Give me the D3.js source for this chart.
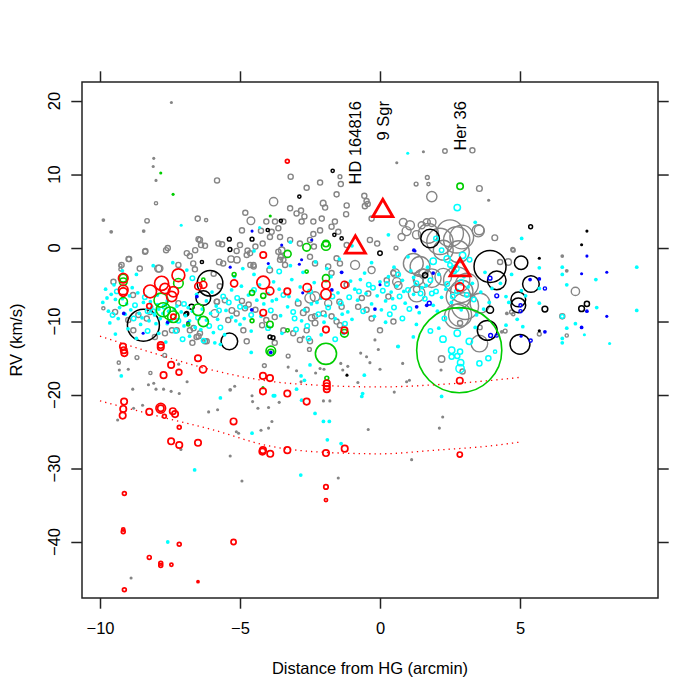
<!DOCTYPE html>
<html>
<head>
<meta charset="utf-8">
<script src="https://cdn.jsdelivr.net/npm/d3@7"></script>
<style>
body { margin: 0; background: #fff; }
text { font-family: "Liberation Sans", Arial, Helvetica, sans-serif; }
</style>
</head>
<body>
<div id="chart"></div>
<script>
var width = 700
var height = 700
var margin = {top: 82, right: 42, bottom: 102, left: 82}

// tick values
var xTicks = [-10, -5, 0, 5]
var yTicks = [20, 10, 0, -10, -20, -30, -40]

// points: [distance (arcmin), RV (km/s), symbol cex]
var greyPts = [
[-7.45,19.8,0.3],[-8.08,12.2,0.3],[-8.1,11.1,0.3],[-8.0,9.2,0.3],[-5.82,9.2,0.8],[-3.8,6.3,1.3],[-8.0,6.1,0.5],[-9.88,3.8,0.4],[-8.32,3.7,0.7],[-6.51,4.0,0.8],[-6.21,3.8,0.5],[-4.61,3.7,1.2],[-4.81,4.8,0.8],[-4.06,3.6,0.8],[-9.6,2.2,0.4],[-8.44,2.3,0.4],[-7.58,0.0,0.8],[-8.38,-0.4,0.8],[-7.88,-2.8,1.1],[-8.98,-1.5,0.8],[-8.58,-2.8,0.8],[-9.27,-2.4,0.5],[-9.27,-2.9,0.5],[-6.48,1.2,0.8],[-6.39,0.4,0.8],[-6.6,-0.3,0.8],[-5.64,0.5,0.8],[-5.32,-1.5,1.0],[-5.11,-1.6,1.0],[-4.93,2.4,0.8],[-4.25,2.35,0.8],[-4.73,-0.35,0.8],[-4.45,0.2,0.8],[-4.63,-2.3,0.8],[-4.51,-2.5,0.8],[-3.94,-3.0,0.9],[-3.54,-1.2,0.8],[-5.74,-1.9,0.9],[-5.94,-3.5,0.8],[-8.82,-6.4,0.8],[-9.88,-8.2,0.5],[-5.72,-5.2,0.8],[-5.82,-7.3,0.8],[-5.9,-8.9,1.2],[-5.29,-8.5,0.9],[-4.93,-7.2,0.8],[-4.69,-7.7,0.8],[-4.45,-8.4,0.8],[-4.06,-9.8,0.8],[-4.21,-10.5,0.8],[-3.76,-9.4,0.8],[-7.43,-11.2,0.8],[-6.66,-10.9,0.8],[-6.48,-12.0,0.8],[-6.25,-12.7,0.8],[-6.7,-12.9,0.8],[-3.76,-12.9,0.8],
[-9.52,-4.6,0.8],[-9.23,-2.3,0.8],[-8.96,-1.5,0.8],[-7.92,-2.8,1.1],[-8.39,-0.5,0.8],[-7.64,-0.3,0.8],[-6.9,-0.7,0.8],[-6.79,-1.1,0.8],[-7.2,-2.3,0.8],[-6.67,-2.1,0.8],[-6.61,-2.9,0.8],[-6.43,1.1,0.8],[-6.25,0.3,0.8],[-5.77,0.6,0.8],[-5.6,-2.1,0.8],[-5.12,-0.4,0.8],[-5.0,0.4,0.8],[-4.76,-0.95,0.8],[-5.83,-7.3,0.8],[-5.54,-7.1,0.8],[-5.42,-9.8,0.8],[-5.12,-8.9,0.8],[-4.82,-8.2,0.8],[-6.19,-12.7,0.8],[-6.43,-11.6,0.8],[-7.2,-7.5,0.8],[-8.21,-8.7,0.8],[-8.33,-9.6,0.8],[-8.63,-9.1,0.8],[-9.46,-8.7,0.8],[-8.99,-9.8,0.8],[-8.81,-11.2,0.8],[-8.04,-12.1,0.8],[-7.68,-11.6,0.8],[-7.26,-11.2,0.8],[-6.79,-11.2,0.8],[-6.55,-12.1,0.8],[-4.88,-11.2,0.8],[-4.76,-12.7,0.8],
[-4.19,0.6,0.8],[-4.64,-0.7,0.8],[-4.52,-2.3,0.8],[-3.63,-0.5,0.8],[-3.45,-1.6,0.8],[-2.86,0.6,0.8],[-2.5,-1.2,0.8],[-2.32,-2.1,0.8],[-1.55,-1.4,0.8],[-1.43,-2.1,0.8],[-1.85,-2.5,0.8],[-1.73,-3.4,0.8],[-2.32,-6.6,1.5],[-2.62,-8.4,0.8],[-2.32,-9.3,0.8],[-2.02,-8.9,0.8],[-1.73,-9.3,0.8],[-1.55,-10.0,0.8],[-1.43,-10.5,0.8],[-3.45,-11.2,0.8],[-3.1,-11.6,0.8],[-2.62,-11.2,0.8],[-2.86,-12.5,0.8],[-2.5,-12.7,0.8],[-0.78,-8.0,0.8],[-0.65,-6.8,0.8],[-0.42,-6.2,0.8],[-0.48,-8.4,0.8],[-0.3,-9.6,0.8],[0.24,-4.4,0.8],[0.48,-3.4,0.8],[0.3,-6.6,0.8],[0.0,-11.2,0.8],[0.48,-10.0,0.8],[-3.93,1.5,0.8],[-3.57,1.5,0.8],[-1.85,-7.5,1.1],[-0.3,-3.0,1.1],
[-3.19,9.7,0.8],[-2.62,8.2,0.8],[-2.14,8.9,0.8],[-1.43,9.7,0.6],[-1.4,8.7,0.8],[-3.21,5.4,0.8],[-2.98,4.7,0.8],[-2.82,5.1,0.8],[-2.7,4.3,0.8],[-2.8,3.6,0.8],[-2.03,6.1,0.9],[-1.96,5.5,0.8],[-2.08,4.0,0.8],[-2.38,3.6,0.8],[-1.55,7.3,0.8],[-1.19,5.8,0.8],[-1.21,4.6,0.8],[-0.56,7.1,0.8],[-0.48,6.4,0.8],[-0.44,6.0,0.8],[-0.54,5.7,0.8],[-0.3,4.0,0.8],[-3.75,3.6,0.8],[-3.63,2.7,0.8],[-3.45,3.6,0.8],[-3.87,2.2,0.8],[-3.51,-0.3,1.0],[-3.21,1.1,0.8],[-1.61,3.6,0.8],[-1.73,2.9,0.8],[-1.49,2.2,0.8],[-2.14,2.4,0.8],[-2.38,1.9,0.8],[-2.5,1.1,0.8],[-2.36,0.2,0.8],[-1.19,0.4,0.8],[-0.89,-2.3,1.4],[-0.36,1.1,0.8],[-0.1,0.6,0.8],[0.57,0.0,0.6],
[0.83,3.5,1.2],[1.07,3.1,1.4],[0.95,2.3,1.4],[0.77,1.5,1.1],[1.31,1.8,1.3],[1.49,3.1,1.1],[1.67,3.5,1.1],[1.85,3.5,1.3],[1.85,7.0,1.6],[1.29,8.7,0.6],[1.69,9.6,0.6],[1.73,8.7,0.5],[2.32,13.2,0.7],[1.55,13.1,0.3],[0.6,11.6,0.3],[3.3,13.3,0.8],
[1.73,2.0,3.1],[2.14,0.9,4.1],[2.74,1.1,4.1],[2.8,-0.5,3.4],[3.51,2.35,1.9],[2.5,2.0,4.2],[2.92,1.5,3.7],[2.26,-0.3,3.1],[1.19,-2.1,3.1],[1.43,-2.5,3.1],[1.55,-4.1,2.9],[1.85,-4.1,2.9],[2.74,-4.35,4.1],[3.1,-5.0,3.6],[2.8,-6.6,3.8],[2.86,-9.1,3.6],[3.57,-7.5,3.1],[0.54,-3.4,1.3],[0.6,-4.6,1.3],[1.31,-6.2,2.6],[2.92,-5.9,3.5],[3.04,-7.9,4.2],[2.74,-9.3,3.8],[2.26,-3.9,2.6],[0.65,-5.1,1.2],[1.31,-5.6,1.0],[2.86,-10.2,0.8],[3.57,-10.8,0.7],[1.55,-3.5,1.4],[1.37,-4.3,1.6],
[-2.5,-6.8,1.6],[-2.92,-7.5,0.9],[-2.74,-8.8,0.9],[-2.44,-9.5,1.0],[-2.32,-10.2,0.9],[-1.45,-7.3,0.8],[-1.37,-8.0,0.8],[-1.19,-5.0,0.8],[-3.57,-1.6,0.8],[-3.39,-2.3,0.8],
[3.88,6.5,0.3],[3.55,8.1,0.9],[3.54,2.45,1.5],[4.1,1.4,0.9],[4.74,-0.2,0.6],[4.58,-1.9,1.0],[4.29,-1.9,0.8],[4.76,-0.3,0.6],[6.51,-1.1,0.4],[6.67,-3.1,0.4],[6.98,-5.9,1.3],[6.51,-9.3,0.8],[4.76,-9.0,0.5],[4.53,-8.9,0.4],[4.35,-11.4,0.4],[6.67,-11.9,0.5],[4.7,-8.7,0.6],[5.69,-11.7,0.6],[4.47,-11.3,0.6],
[2.2,-15.1,1.0],[2.95,-16.8,0.8],[3.55,-13.0,2.6],
[-9.33,-15.6,0.5],[-9.31,-16.6,0.3],[-8.99,-16.5,0.3],[-8.2,-17.0,0.5],[-8.27,-18.6,0.3],[-8.08,-18.4,0.3],[-7.73,-19.2,0.3],[-7.46,-19.5,0.3],[-8.83,-19.2,0.3],[-8.0,-19.2,0.3],[-7.17,-19.8,0.3],[-6.89,-18.2,0.3],[-7.19,-15.8,0.3],[-8.48,-21.4,0.3],[-8.8,-21.8,0.3],[-9.37,-23.4,0.3],[-6.12,-22.3,0.3],[-5.8,-22.0,0.3],[-5.35,-19.3,0.4],[-5.19,-18.8,0.3],[-4.57,-20.1,0.3],[-4.55,-20.9,0.3],[-4.36,-21.8,0.3],[-3.98,-21.7,0.3],[-3.86,-23.6,0.3],[-3.98,-24.5,0.3],[-4.25,-24.8,0.3],[-5.13,-25.0,0.3],[-5.05,-25.2,0.3],[-5.35,-28.3,0.3],[-7.11,-27.4,0.3],[-4.93,-31.7,0.3],[-8.89,-44.9,0.3],[-8.68,-14.9,0.6],[-7.69,-14.6,0.6],[-4.13,-16.0,0.6],
[-2.74,-12.1,0.3],[-2.52,-13.8,0.6],[-3.28,-14.7,0.6],[-3.28,-16.2,0.3],[-2.98,-16.7,0.3],[-2.82,-18.2,0.3],[-2.14,-16.4,0.3],[-2.0,-16.5,0.3],[-2.3,-17.0,0.3],[-1.4,-15.7,0.3],[-1.33,-16.6,0.3],[-1.15,-16.1,0.3],[-0.79,-18.3,0.3],[-0.36,-15.6,0.3],[-0.69,-14.3,0.3],[-0.48,-14.8,0.3],[0.0,-16.5,0.3],[-0.06,-13.8,0.3],[-0.18,-12.5,0.3],[0.63,-13.4,0.3],[0.81,-15.7,0.3],[0.95,-18.2,0.3],[1.05,-18.0,0.3],[0.51,-19.6,0.3],[2.18,-16.6,0.3],[2.24,-23.0,0.3],[2.12,-24.5,0.3],[-0.42,-24.7,0.3],[-1.49,-31.3,0.3],[1.13,-28.8,0.3],[-2.02,-20.8,0.3],[-1.79,-20.8,0.3],[-3.6,-21.0,0.3]
]

var blackPts = [
[-8.45,-10.5,5.0],[-6.07,-4.8,4.0],[-6.31,-6.8,2.3],[-5.38,-12.7,2.6],[-6.73,-8.0,0.8],[-6.9,-8.9,0.6],[-5.36,-0.2,0.6],[-5.38,1.2,0.6],[-4.57,1.2,0.6],[-4.01,2.45,0.5],[-3.54,3.7,0.5],[-6.36,-1.9,0.5],[-6.93,-9.0,0.6],[-3.82,-12.2,0.6],[-3.93,-12.1,0.6],[-1.63,1.8,0.5],[-1.37,1.3,0.5],[0.0,-0.7,0.7],[1.61,-3.7,0.8],[-1.69,10.5,0.5],[-2.88,7.0,0.5],[-1.18,-17.3,0.3],
[1.79,1.3,2.9],[3.93,-2.5,5.0],[4.17,-4.4,2.9],[5.04,-2.0,2.1],[5.39,-4.9,2.6],[4.94,-7.0,2.3],[4.94,-7.8,2.3],[3.93,-8.4,1.1],[3.83,-11.2,3.1],[5.0,-13.1,3.1],[5.89,-8.3,0.9],[5.38,2.9,0.6],[7.2,-8.25,0.9],[7.39,-7.6,0.8],[5.69,-1.4,0.3],[7.2,0.45,0.3],[7.39,2.3,0.3],[5.69,-11.25,0.3]
]

var cyanPts = [
[-9.6,-6.3,0.4],[-9.45,-7.0,0.4],[-9.3,-8.1,0.4],[-9.7,-8.6,0.4],[-9.1,-9.0,0.4],[-8.9,-8.4,0.4],[-8.75,-7.8,0.7],[-8.6,-8.9,0.4],[-8.5,-9.5,0.4],[-8.3,-8.6,0.7],[-8.15,-8.0,0.4],[-8.05,-9.1,0.4],[-7.95,-7.7,0.4],[-7.85,-9.6,0.4],[-7.7,-8.0,0.7],[-7.6,-10.3,0.4],[-7.45,-9.8,0.4],[-7.35,-8.3,0.4],[-7.2,-9.9,0.7],[-7.1,-8.7,0.4],[-7.0,-10.6,0.4],[-6.95,-9.2,0.4],[-6.8,-9.9,0.4],[-6.7,-8.6,0.4],[-6.6,-10.8,0.4],[-6.5,-9.5,0.7],[-6.4,-11.1,0.4],[-6.2,-9.8,0.4],[-6.1,-10.6,0.7],[-5.95,-11.5,0.4],[-5.8,-9.7,0.4],[-5.7,-10.8,0.7],[-5.55,-11.8,0.4],[-8.85,-5.4,0.4],[-8.65,-6.1,0.4],[-8.4,-6.7,0.7],[-8.2,-7.3,0.4],[-7.95,-6.4,0.4],[-7.6,-7.2,0.4],[-9.5,-5.0,0.4],[-9.8,-5.6,0.4],[-9.2,-3.1,0.4],[-8.7,-3.6,0.4],[-8.1,-2.4,0.4],[-7.4,-2.0,0.4],[-6.9,-3.0,0.4],[-6.7,-4.1,0.7],[-6.55,-6.3,0.4],[-6.2,-7.2,0.4],[-6.0,-6.0,0.4],[-5.85,-7.9,0.4],[-5.6,-6.6,0.7],[-5.5,-8.5,0.4],[-9.65,-10.2,0.4],[-9.0,-11.0,0.4],[-8.7,-12.3,0.4],[-7.9,-11.6,0.4],[-7.3,-11.3,0.7],[-7.05,-12.4,0.7],[-6.8,-12.0,0.4],[-6.3,-12.6,0.7],[-5.9,-12.9,0.4],[-9.35,-9.6,0.4],[-8.0,-10.3,0.4],[-7.75,-8.9,0.4],[-8.45,-7.4,0.4],[-9.05,-7.6,0.4],[-9.55,-9.1,0.7],
[-9.9,-7.4,0.4],[-9.75,-6.8,0.4],[-9.4,-5.9,0.7],[-9.2,-6.9,0.4],[-8.95,-6.5,0.4],[-8.8,-9.6,0.7],[-8.55,-10.4,0.4],[-8.25,-9.9,0.4],[-8.1,-8.6,0.7],[-7.9,-8.3,0.4],[-7.55,-8.6,0.4],[-7.25,-7.9,0.4],[-7.0,-7.6,0.7],[-6.85,-8.1,0.4],[-6.35,-8.3,0.4],[-6.05,-8.9,0.4],[-5.75,-8.5,0.7],[-9.45,-11.7,0.4],[-8.3,-11.3,0.7],[-7.65,-12.8,0.4],
[-5.3,-5.7,0.4],[-5.1,-6.8,0.7],[-4.95,-5.2,0.4],[-4.8,-8.1,0.4],[-4.7,-6.4,0.4],[-4.6,-9.1,0.7],[-4.4,-7.1,0.4],[-4.3,-5.0,0.4],[-4.15,-7.6,0.4],[-4.0,-6.2,0.4],[-3.9,-8.5,0.7],[-3.8,-4.6,0.4],[-3.7,-7.0,0.4],[-3.55,-9.2,0.4],[-3.45,-6.4,0.7],[-3.3,-8.0,0.4],[-3.15,-4.3,0.4],[-3.05,-9.6,0.7],[-2.95,-7.1,0.4],[-2.85,-5.3,0.4],[-2.7,-8.4,0.4],[-2.6,-10.6,0.7],[-2.45,-7.6,0.4],[-2.35,-4.7,0.4],[-2.2,-9.0,0.7],[-2.1,-6.8,0.4],[-2.0,-10.1,0.4],[-1.85,-8.1,0.7],[-1.75,-3.9,0.4],[-1.6,-9.6,0.4],[-1.5,-6.1,0.4],[-1.4,-7.5,0.7],[-1.25,-10.3,0.7],[-1.15,-8.7,0.4],[-1.05,-4.5,0.4],[-5.2,-3.9,0.4],[-4.9,-2.8,0.4],[-4.5,-3.6,0.4],[-3.95,-2.6,0.4],[-3.6,-3.2,0.7],[-3.2,-2.4,0.4],[-2.75,-3.3,0.4],[-2.3,-1.9,0.4],[-1.9,-2.8,0.4],[-1.45,-1.5,0.4],[-5.0,-10.4,0.4],[-4.6,-11.3,0.4],[-4.0,-10.9,0.7],[-3.5,-11.6,0.4],[-3.0,-11.1,0.7],[-2.55,-12.3,0.7],[-2.1,-11.8,0.4],[-1.6,-12.4,0.7],[-5.3,-9.4,0.4],[-5.0,-8.0,0.7],
[-5.4,-7.4,0.7],[-5.15,-9.9,0.4],[-4.85,-9.6,0.4],[-4.5,-5.7,0.7],[-4.25,-9.3,0.4],[-3.85,-7.2,0.4],[-3.6,-5.6,0.4],[-3.25,-6.6,0.4],[-3.1,-8.7,0.7],[-2.8,-9.9,0.4],[-2.5,-5.9,0.7],[-2.25,-7.4,0.4],[-1.95,-9.2,0.4],[-1.7,-6.6,0.7],[-1.35,-9.0,0.4],[-1.1,-6.7,0.7],[-1.0,-9.7,0.4],[-1.3,-11.6,0.4],
[-0.9,-5.6,0.4],[-0.8,-7.1,0.4],[-0.7,-4.3,0.4],[-0.6,-8.6,0.7],[-0.5,-6.2,0.4],[-0.4,-5.0,0.7],[-0.3,-7.6,0.4],[-0.2,-9.3,0.4],[-0.1,-6.5,0.4],[0.0,-4.6,0.4],[0.1,-5.8,0.7],[0.2,-7.2,0.4],[0.3,-3.9,0.4],[0.4,-6.0,0.4],[0.5,-8.1,0.7],[0.6,-5.2,0.4],[0.7,-6.6,0.7],[0.8,-4.4,0.4],[0.9,-7.5,0.4],[1.0,-5.7,0.7],[1.1,-3.1,0.4],[1.2,-6.3,0.4],[1.3,-4.8,0.7],[1.4,-8.8,0.4],[1.5,-5.4,0.4],[1.6,-6.9,0.7],[1.7,-2.6,0.4],[1.8,-4.4,0.7],[1.9,-7.8,0.4],[2.0,-5.9,0.7],[2.1,-3.6,0.4],[2.2,-6.7,0.4],[2.3,-9.6,0.7],[2.4,-4.9,0.7],[2.5,-2.3,0.7],[2.55,-7.4,0.4],[2.65,-3.2,0.7],[2.75,-5.9,0.7],[2.9,-8.4,0.4],[3.0,-3.9,0.4],[3.1,-6.4,0.7],[3.2,-1.6,0.7],[3.3,-4.8,0.4],[3.45,-9.1,0.4],[3.6,-6.0,0.4],[3.75,-3.3,0.4],[3.9,-7.4,0.4],[0.2,-10.1,0.4],[0.8,-9.6,0.7],[1.3,-10.4,0.4],[1.8,-11.3,0.7],[0.5,-2.6,0.4],[-0.3,-2.0,0.4],[1.0,-1.2,0.4],[2.0,1.3,0.7],[2.76,5.5,1.0],[2.2,-0.3,0.7],[2.95,-1.0,1.0],[2.7,-2.8,1.1],[2.4,-1.5,1.0],[1.9,-1.8,1.0],[2.25,-12.4,1.0],[2.56,-13.9,1.0],[2.76,-11.6,1.0],[2.86,-14.1,0.8],[2.56,-14.8,0.8],[2.76,-14.7,0.8],[2.88,-15.6,1.0],[2.86,-16.4,1.3],[3.55,-15.7,0.8],[3.19,-12.7,1.0],[3.87,-15.0,0.8],[4.11,-14.1,0.5],[3.4,-10.8,0.4],[2.1,-10.9,0.4],
[-0.75,-5.9,0.7],[-0.55,-3.4,0.4],[-0.25,-5.4,0.7],[0.05,-8.4,0.4],[0.25,-4.9,0.7],[0.45,-6.9,0.4],[0.65,-3.6,0.7],[0.85,-5.9,0.4],[1.05,-8.3,0.7],[1.2,-4.0,0.4],[1.45,-6.2,0.7],[1.65,-5.1,0.4],[1.85,-6.2,0.7],[2.05,-8.6,0.4],[2.35,-5.6,0.4],[2.6,-6.6,0.7],[2.9,-4.6,0.7],[3.15,-5.3,0.4],[3.35,-7.0,0.7],[3.7,-8.3,0.4],[4.0,-5.5,0.4],[0.35,-9.0,0.7],
[4.3,-4.8,0.4],[4.5,-6.6,0.4],[4.7,-3.6,0.4],[4.9,-9.7,0.4],[5.06,1.3,0.4],[5.69,-5.5,0.4],[5.69,-7.5,0.4],[5.69,-2.7,0.4],[4.6,-7.4,0.4],[4.5,-10.5,0.4],[5.1,-10.7,0.4],[5.05,-5.8,0.4],[5.2,-6.5,0.4],[6.51,-9.3,0.6],[6.67,-5.0,0.4],[6.51,-2.6,0.4],[6.51,-3.6,0.4],[6.98,-10.3,0.4],[7.74,-8.1,0.4],[7.71,-4.3,0.4],[9.17,-2.6,0.4],[9.17,-8.5,0.4],[6.51,-12.3,0.4],[6.51,-12.9,0.4],[6.67,-10.9,0.4],[7.3,-11.8,0.3],[8.2,-13.0,0.3],
[-9.24,-17.4,0.4],[-5.7,-20.4,0.4],[-6.62,-30.2,0.4],[-7.58,-40.0,0.4],[-4.57,-25.2,0.4],[-3.76,-20.1,0.4],[-2.32,-22.5,0.4],[-2.02,-23.6,0.4],[-1.81,-23.6,0.4],[-1.88,-26.1,0.4],[-1.39,-26.6,0.4],[-2.83,-30.9,0.4],[-0.62,-19.8,0.4],[-0.65,-20.2,0.4],[-0.56,-17.3,0.4],[-2.8,-20.7,0.4],[2.2,-20.2,0.4],[-2.5,-15.9,0.4],[-2.82,-17.4,0.4],[-2.7,-18.0,0.4],[-2.98,-19.2,0.4],[-3.81,-20.1,0.4],[0.65,-13.4,0.4],[1.19,-12.1,0.4],[-4.6,-14.2,0.4],[-5.7,-13.1,0.4],
[0.99,12.9,0.3],[-7.1,3.1,0.3],[-4.3,2.8,0.3],[-3.2,0.8,0.4],[-1.0,0.3,0.4],[-4.5,-0.4,0.4],[3.4,3.5,0.4],[0.3,1.8,0.4]
]

var bluePts = [
[3.93,-4.1,0.6],[4.17,-6.5,0.6],[5.69,-4.2,0.4],[5.02,-7.8,0.5],[5.02,-8.6,0.5],[5.89,-11.4,0.4],[7.2,-10.8,0.4],[7.39,-8.6,0.4],[8.1,-9.3,0.3],[8.1,-3.3,0.3],[7.39,-1.1,0.3],[7.2,-3.5,0.3],[5.38,-12.6,0.5],[3.95,-11.9,0.6],[4.17,-11.9,0.5],[5.36,-4.3,0.4],[5.89,-5.5,0.5],[5.04,-12.0,0.3],[-9.15,-8.9,0.4],[-8.46,-11.6,0.3],[-7.58,-10.1,0.4],[-6.54,-6.6,0.4],[-4.57,2.3,0.3],[-5.35,-2.6,0.3],[-6.86,-10.2,0.4],[-2.44,1.1,0.3],[1.21,-0.3,0.4],[1.9,-3.4,0.4],[1.76,-7.5,0.6],[1.31,-8.0,0.4],[-1.72,-5.7,0.4],[-2.8,-1.6,0.3],[-3.51,0.4,0.3],[-2.88,-2.2,0.3],[-3.99,-2.1,0.3],[-1.37,-3.3,0.4],[-0.18,-8.3,0.4],[0.0,-5.0,0.3],[-4.58,-8.4,0.4],[-2.76,-6.1,0.3],[1.25,-0.4,0.3],[1.67,-7.8,0.4],[-3.9,-14.2,0.4]
]

var greenPts = [
[-9.17,-4.1,1.2],[-9.17,-4.6,1.2],[-9.17,-7.3,1.3],[-7.82,-7.1,2.2],[-7.74,-8.4,2.2],[-7.5,-8.9,2.0],[-7.38,-9.35,1.8],[-7.2,-4.8,1.5],[-6.49,-8.4,1.8],[-6.31,-10.0,1.6],[-6.85,-10.4,0.5],[-6.31,-4.3,0.5],[-5.21,-3.6,0.6],[-4.17,-6.5,0.8],[-3.3,-0.8,1.1],[-2.62,0.1,1.2],[-1.93,0.3,1.4],[-1.93,0.6,1.0],[-1.27,-11.6,1.2],[-3.93,-10.4,1.0],[-4.57,-9.9,0.6],[-4.57,-6.1,0.8],[-3.3,-11.2,0.5],[-2.62,-3.2,0.5],[-1.93,-4.1,1.1],[-3.9,-14.0,1.5],[-3.9,-14.2,1.0],[-1.93,-14.4,3.3],[2.83,-13.9,13.3],[2.86,8.4,1.0],[-1.9,-17.7,0.6],[-7.83,10.2,0.3],[-7.39,7.3,0.3],[-3.92,4.35,0.3],[-4.18,-19.0,0.3]
]

var redPts = [
[-9.18,-13.4,1.0],[-9.15,-13.9,1.0],[-9.13,-14.3,1.0],[-7.83,-13.2,1.0],[-7.83,-13.5,1.0],[-6.5,-15.0,1.0],[-7.46,-15.9,1.0],[-6.32,-16.5,1.1],[-7.73,-17.3,1.0],[-7.18,-16.9,0.9],[-4.18,-17.4,1.0],[-3.93,-17.7,1.0],[-4.18,-19.5,1.0],
[-9.14,-20.9,1.0],[-9.17,-21.9,1.0],[-9.19,-22.8,1.0],[-7.83,-21.8,1.5],[-7.83,-21.8,1.0],[-8.24,-22.3,1.0],[-7.4,-22.2,1.0],[-7.32,-22.6,1.0],[-7.7,-22.9,0.6],[-7.17,-24.4,0.6],[-5.23,-23.6,1.0],[-7.46,-26.3,1.0],[-7.17,-26.8,1.0],[-6.5,-26.5,1.0],[-4.18,-27.5,1.0],[-4.2,-27.7,1.0],[-3.92,-28.0,1.0],
[-9.13,-33.4,0.6],[-9.17,-38.3,0.5],[-9.17,-38.6,0.6],[-7.17,-40.3,0.6],[-5.23,-40.0,0.8],[-8.24,-42.1,0.6],[-7.83,-42.9,0.6],[-7.83,-43.2,0.6],[-7.45,-43.1,0.5],[-6.5,-45.4,0.4],[-9.13,-46.5,0.6],
[-3.31,-19.8,1.0],[-2.62,-20.9,1.0],[-1.9,-18.4,1.0],[-1.9,-18.8,1.0],[-1.9,-19.2,1.0],[2.85,-18.05,1.0],[-3.31,-27.5,1.0],[-1.93,-27.9,1.0],[-1.26,-27.3,1.0],[2.85,-28.1,0.8],[-1.93,-32.5,0.7],[-1.93,-34.3,0.5],
[-3.31,11.8,0.6],[-3.31,-5.9,1.0],[-2.6,-5.4,1.3],[-1.93,-6.3,1.6],[-4.17,-0.95,1.0],[-4.17,-4.7,2.0],[-3.93,-5.85,1.2],[-1.93,-5.0,1.3],[-1.27,-5.0,1.1],[-4.17,-8.8,1.0],[-1.93,-11.1,1.0],[-1.27,-11.2,1.0],
[-9.17,-4.1,1.5],[-9.17,-5.7,1.5],[-9.17,-6.0,1.3],[-8.21,-5.9,2.0],[-7.8,-4.8,2.2],[-7.68,-5.5,1.6],[-7.38,-5.95,1.6],[-7.44,-6.6,1.6],[-7.2,-3.7,2.0],[-8.24,-7.9,0.8],[-7.38,-9.35,0.8],[-6.49,-5.2,1.1],[-6.31,-5.0,1.1],[-5.21,-4.8,1.1],[2.85,-5.3,1.3]
]

// the three named stars
var starNames = ["HD 164816", "9 Sgr", "Her 36"]
var starX = [-0.88, 0.1, 2.86]
var starY = [0.1, 5.05, -3.0]

// dotted red curves
var curveX = [-10, -8, -6, -4, -2, 0, 2, 4, 5]
var curveUpper = [-12.0, -14.4, -16.6, -18.1, -18.7, -18.9, -18.6, -18.0, -17.6]
var curveLower = [-20.8, -22.8, -24.7, -26.9, -27.8, -28.0, -27.5, -26.9, -26.4]

var x = d3.scaleLinear().domain([-10.643, 9.929]).range([margin.left, width - margin.right])
var y = d3.scaleLinear().domain([-47.62, 22.59]).range([height - margin.bottom, margin.top])
var r = d3.scaleLinear().domain([0, 1]).range([0, 3.2])

var svg = d3.select("#chart").append("svg")
	.attr("width", width)
	.attr("height", height)

var plot = svg.append("g")

function drawPoints(data, color, lw){
	plot.append("g").selectAll("circle")
		.data(data).enter()
		.append("circle")
		  .attr("cx", function(d){return x(d[0])})
		  .attr("cy", function(d){return y(d[1])})
		  .attr("r", function(d){return d[2] < 0.45 ? r(d[2]) + 0.6 : r(d[2])})
		  .attr("fill", function(d){return d[2] < 0.45 ? color : "none"})
		  .attr("stroke", function(d){return d[2] < 0.45 ? "none" : color})
		  .attr("stroke-width", lw)
}

drawPoints(greyPts, "#858585", 1.4)
drawPoints(blackPts, "#000000", 1.5)
drawPoints(cyanPts, "#00ffff", 1.5)
drawPoints(bluePts, "#0000ff", 1.4)
drawPoints(greenPts, "#00cd00", 1.6)
drawPoints(redPts, "#ff0000", 1.7)

var line = d3.line()
	.x(function(d){return x(d[0])})
	.y(function(d){return y(d[1])})
	.curve(d3.curveMonotoneX)

;[curveUpper, curveLower].forEach(function(c){
	plot.append("path")
	  .attr("d", line(curveX.map(function(v, i){return [v, c[i]]})))
	  .attr("fill", "none")
	  .attr("stroke", "#ff0000")
	  .attr("stroke-width", 1.3)
	  .attr("stroke-dasharray", "1.3,4")
})

// star triangles and labels
var tri = d3.symbol().type(d3.symbolTriangle).size(175)
plot.selectAll("path.star")
	.data(starNames).enter()
	.append("path")
	  .classed("star", true)
	  .attr("d", tri)
	  .attr("transform", function(d, i){return "translate(" + x(starX[i]) + "," + y(starY[i]) + ")"})
	  .attr("fill", "none")
	  .attr("stroke", "#ff0000")
	  .attr("stroke-width", 2.8)

plot.selectAll("text.star")
	.data(starNames).enter()
	.append("text")
	  .classed("star", true)
	  .attr("transform", function(d, i){return "translate(" + x(starX[i]) + "," + y(20) + ") rotate(-90)"})
	  .attr("text-anchor", "end")
	  .attr("dy", "0.36em")
	  .attr("font-size", "16.5px")
	  .text(function(d){return d})

// box
svg.append("rect")
	.attr("x", margin.left)
	.attr("y", margin.top)
	.attr("width", width - margin.left - margin.right)
	.attr("height", height - margin.top - margin.bottom)
	.attr("fill", "none")
	.attr("stroke", "#222")
	.attr("stroke-width", 1.5)

// axes
var gB = svg.append("g")
	.attr("transform", "translate(0," + (height - margin.bottom) + ")")
	.call(d3.axisBottom(x).tickValues(xTicks).tickSize(10.7).tickPadding(14).tickSizeOuter(0))
var gT = svg.append("g")
	.attr("transform", "translate(0," + margin.top + ")")
	.call(d3.axisTop(x).tickValues(xTicks).tickSize(10.7).tickFormat("").tickSizeOuter(0))
var gL = svg.append("g")
	.attr("transform", "translate(" + margin.left + ",0)")
	.call(d3.axisLeft(y).tickValues(yTicks).tickSize(10.7).tickFormat("").tickSizeOuter(0))
var gR = svg.append("g")
	.attr("transform", "translate(" + (width - margin.right) + ",0)")
	.call(d3.axisRight(y).tickValues(yTicks).tickSize(10.7).tickFormat("").tickSizeOuter(0))

;[gB, gT, gL, gR].forEach(function(g){
	g.select(".domain").remove()
	g.selectAll(".tick line").attr("stroke", "#222").attr("stroke-width", 1.5)
	g.selectAll("text").attr("font-size", "16.5px").attr("font-family", "Liberation Sans, Arial, sans-serif").attr("fill", "#000")
})

svg.append("g").selectAll("text")
	.data(yTicks).enter()
	.append("text")
	  .attr("transform", function(d){return "translate(60," + y(d) + ") rotate(-90)"})
	  .attr("text-anchor", "middle")
	  .attr("font-size", "16.5px")
	  .text(d3.format("d"))

svg.append("text")
	.attr("x", (margin.left + width - margin.right) / 2)
	.attr("y", 674)
	.attr("text-anchor", "middle")
	.attr("font-size", "16.5px")
	.text("Distance from HG (arcmin)")

svg.append("text")
	.attr("transform", "translate(22," + (margin.top + height - margin.bottom) / 2 + ") rotate(-90)")
	.attr("text-anchor", "middle")
	.attr("font-size", "16.5px")
	.text("RV (km/s)")
</script>
</body>
</html>
